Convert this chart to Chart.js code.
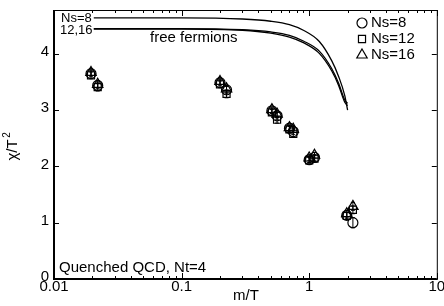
<!DOCTYPE html>
<html>
<head>
<meta charset="utf-8">
<script src="https://cdn.jsdelivr.net/npm/chart.js@4.4.0/dist/chart.umd.min.js"></script>
<style>
  html, body { margin: 0; padding: 0; background: #fff; }
  #wrap { width: 444px; height: 306px; }
</style>
</head>
<body>
<div id="wrap"><canvas id="chiChart" width="444" height="306"></canvas></div>
<script>
// ---- data ----
const xTickValues = [0.01, 0.1, 1, 10];
const xTickLabels = ['0.01', '0.1', '1', '10'];
const yTickValues = [0, 1, 2, 3, 4];
const yTickLabels = ['0', '1', '2', '3', '4'];

// quark mass / T for the lattice points
const massOverT = [0.0195, 0.022, 0.2, 0.225, 0.51, 0.56, 0.70, 0.75, 1.0, 1.1, 1.97, 2.2];
const chiNs8  = [3.65, 3.44, 3.49, 3.36, 2.99, 2.90, 2.68, 2.62, 2.12, 2.16, 1.13, 1.00];
const chiNs12 = [3.62, 3.41, 3.46, 3.29, 2.96, 2.83, 2.66, 2.58, 2.11, 2.14, 1.12, 1.23];
const chiNs16 = [3.67, 3.46, 3.51, 3.38, 3.01, 2.93, 2.69, 2.66, 2.15, 2.20, 1.16, 1.29];
const errNs8  = [0.06, 0.06, 0.06, 0.06, 0.05, 0.06, 0.05, 0.05, 0.05, 0.05, 0.06, 0.09];
const errNs12 = [0.06, 0.07, 0.06, 0.07, 0.05, 0.06, 0.05, 0.06, 0.05, 0.05, 0.06, 0.07];
const errNs16 = [0.06, 0.06, 0.06, 0.06, 0.05, 0.06, 0.05, 0.05, 0.05, 0.05, 0.06, 0.07];

// free fermion curves
const freeX      = [0.0205, 0.1, 0.3, 0.5, 0.7, 0.9, 1.2, 1.5, 1.7, 1.9, 2.0];
const freeNs8    = [4.64, 4.64, 4.62, 4.58, 4.52, 4.42, 4.22, 3.88, 3.60, 3.26, 3.00];
const freeNs12   = [4.45, 4.45, 4.43, 4.39, 4.33, 4.23, 4.05, 3.74, 3.48, 3.18, 3.12];
const freeNs16   = [4.44, 4.44, 4.42, 4.37, 4.30, 4.20, 4.01, 3.70, 3.44, 3.14, 3.08];

const FONT = "15px 'Liberation Sans', Arial, sans-serif";

function pts(xs, ys) {
    return xs.map((x, i) => ({ x: x, y: ys[i] }));
}

function markerSet(label, ys, errs, style) {
    return {
        type: 'scatter',
        label: label,
        data: pts(massOverT, ys),
        errs: errs,
        pointStyle: style,
        pointRadius: style === 'triangle' ? 6 : 5,
        pointBackgroundColor: 'rgba(0,0,0,0)',
        pointBorderColor: '#000',
        pointBorderWidth: 1.2,
        showLine: false
    };
}

function curveSet(label, ys) {
    return {
        type: 'line',
        label: label,
        data: pts(freeX, ys),
        borderColor: '#000',
        borderWidth: 1.3,
        pointRadius: 0,
        fill: false,
        cubicInterpolationMode: 'monotone'
    };
}

// draws frame, inward ticks, labels, error bars, legend, annotations
const decorations = {
    id: 'decorations',
    afterDatasetsDraw(chart) {
        const ctx = chart.ctx;
        const ys = chart.scales.y;
        ctx.save();
        ctx.strokeStyle = '#000';
        ctx.lineWidth = 1;
        // error bars
        chart.data.datasets.forEach((ds, di) => {
            if (!ds.errs) return;
            const meta = chart.getDatasetMeta(di);
            meta.data.forEach((el, i) => {
                const y0 = ys.getPixelForValue(ds.data[i].y - ds.errs[i]);
                const y1 = ys.getPixelForValue(ds.data[i].y + ds.errs[i]);
                ctx.beginPath();
                ctx.moveTo(el.x, y0); ctx.lineTo(el.x, y1);
                ctx.moveTo(el.x - 2, y0); ctx.lineTo(el.x + 2, y0);
                ctx.moveTo(el.x - 2, y1); ctx.lineTo(el.x + 2, y1);
                ctx.stroke();
            });
        });
        ctx.restore();
    },
    afterDraw(chart) {
        const ctx = chart.ctx;
        const a = chart.chartArea;
        const xs = chart.scales.x, ys = chart.scales.y;
        ctx.save();
        ctx.strokeStyle = '#000';
        ctx.fillStyle = '#000';

        // frame
        ctx.lineWidth = 1;
        ctx.strokeRect(a.left + 0.5, a.top + 0.5, a.right - a.left, a.bottom - a.top);
        ctx.lineWidth = 2;
        ctx.beginPath();
        ctx.moveTo(a.left, a.top); ctx.lineTo(a.left, a.bottom); ctx.lineTo(a.right, a.bottom);
        ctx.stroke();

        // x ticks (log, major + minor), top and bottom
        ctx.lineWidth = 1;
        ctx.beginPath();
        for (let d = 0; d < xTickValues.length; d++) {
            const base = xTickValues[d];
            for (let k = 1; k <= 9; k++) {
                const v = base * k;
                if (v > 10 + 1e-9) break;
                const px = Math.round(xs.getPixelForValue(v)) + 0.5;
                const len = k === 1 ? 6 : 3;
                ctx.moveTo(px, a.bottom); ctx.lineTo(px, a.bottom - len);
                ctx.moveTo(px, a.top); ctx.lineTo(px, a.top + len);
            }
        }
        // y ticks, left and right
        yTickValues.forEach(v => {
            const py = Math.round(ys.getPixelForValue(v)) + 0.5;
            ctx.moveTo(a.left, py); ctx.lineTo(a.left + 5, py);
            ctx.moveTo(a.right, py); ctx.lineTo(a.right - 5, py);
        });
        ctx.stroke();

        ctx.font = FONT;
        // x tick labels
        ctx.textAlign = 'center';
        ctx.textBaseline = 'top';
        xTickValues.forEach((v, i) => {
            ctx.fillText(xTickLabels[i], xs.getPixelForValue(v), a.bottom);
        });
        // y tick labels
        ctx.textAlign = 'right';
        ctx.textBaseline = 'middle';
        yTickValues.forEach((v, i) => {
            ctx.fillText(yTickLabels[i], a.left - 5, ys.getPixelForValue(v) - 2);
        });

        // axis titles
        ctx.textAlign = 'center';
        ctx.textBaseline = 'middle';
        ctx.fillText('m/T', 246, 296);
        ctx.save();
        ctx.translate(13, 146);
        ctx.rotate(-Math.PI / 2);
        ctx.fillText('\u03c7/T', -4, 0);
        ctx.font = "10px 'Liberation Sans', Arial, sans-serif";
        ctx.fillText('2', 11, -6);
        ctx.restore();

        // annotations
        ctx.textAlign = 'left';
        ctx.fillText('Quenched QCD, Nt=4', 59, 268);
        ctx.fillText('free fermions', 150, 38);
        ctx.font = "13px 'Liberation Sans', Arial, sans-serif";
        ctx.fillText('Ns=8', 61, 18);
        ctx.fillText('12,16', 60, 30);

        // legend
        ctx.font = FONT;
        const legendRows = [
            { label: 'Ns=8', style: 'circle', r: 5 },
            { label: 'Ns=12', style: 'rect', r: 5 },
            { label: 'Ns=16', style: 'triangle', r: 6 }
        ];
        legendRows.forEach((row, i) => {
            const cy = 23 + i * 16;
            ctx.lineWidth = 1.2;
            ctx.fillStyle = 'rgba(0,0,0,0)';
            Chart.helpers.drawPoint(ctx, { pointStyle: row.style, radius: row.r, borderWidth: 1.2 }, 362, cy);
            ctx.fillStyle = '#000';
            ctx.fillText(row.label, 371, cy);
        });
        ctx.restore();
    }
};

new Chart(document.getElementById('chiChart'), {
    data: {
        datasets: [
            curveSet('free Ns=8', freeNs8),
            curveSet('free Ns=12', freeNs12),
            curveSet('free Ns=16', freeNs16),
            markerSet('Ns=8', chiNs8, errNs8, 'circle'),
            markerSet('Ns=12', chiNs12, errNs12, 'rect'),
            markerSet('Ns=16', chiNs16, errNs16, 'triangle')
        ]
    },
    options: {
        responsive: false,
        animation: false,
        layout: { padding: { left: 54, top: 10, right: 7, bottom: 27 } },
        plugins: {
            legend: { display: false },
            tooltip: { enabled: false }
        },
        scales: {
            x: {
                type: 'logarithmic',
                display: false,
                min: 0.01,
                max: 10
            },
            y: {
                type: 'linear',
                display: false,
                min: 0,
                max: 4.78
            }
        }
    },
    plugins: [decorations]
});
</script>
</body>
</html>
